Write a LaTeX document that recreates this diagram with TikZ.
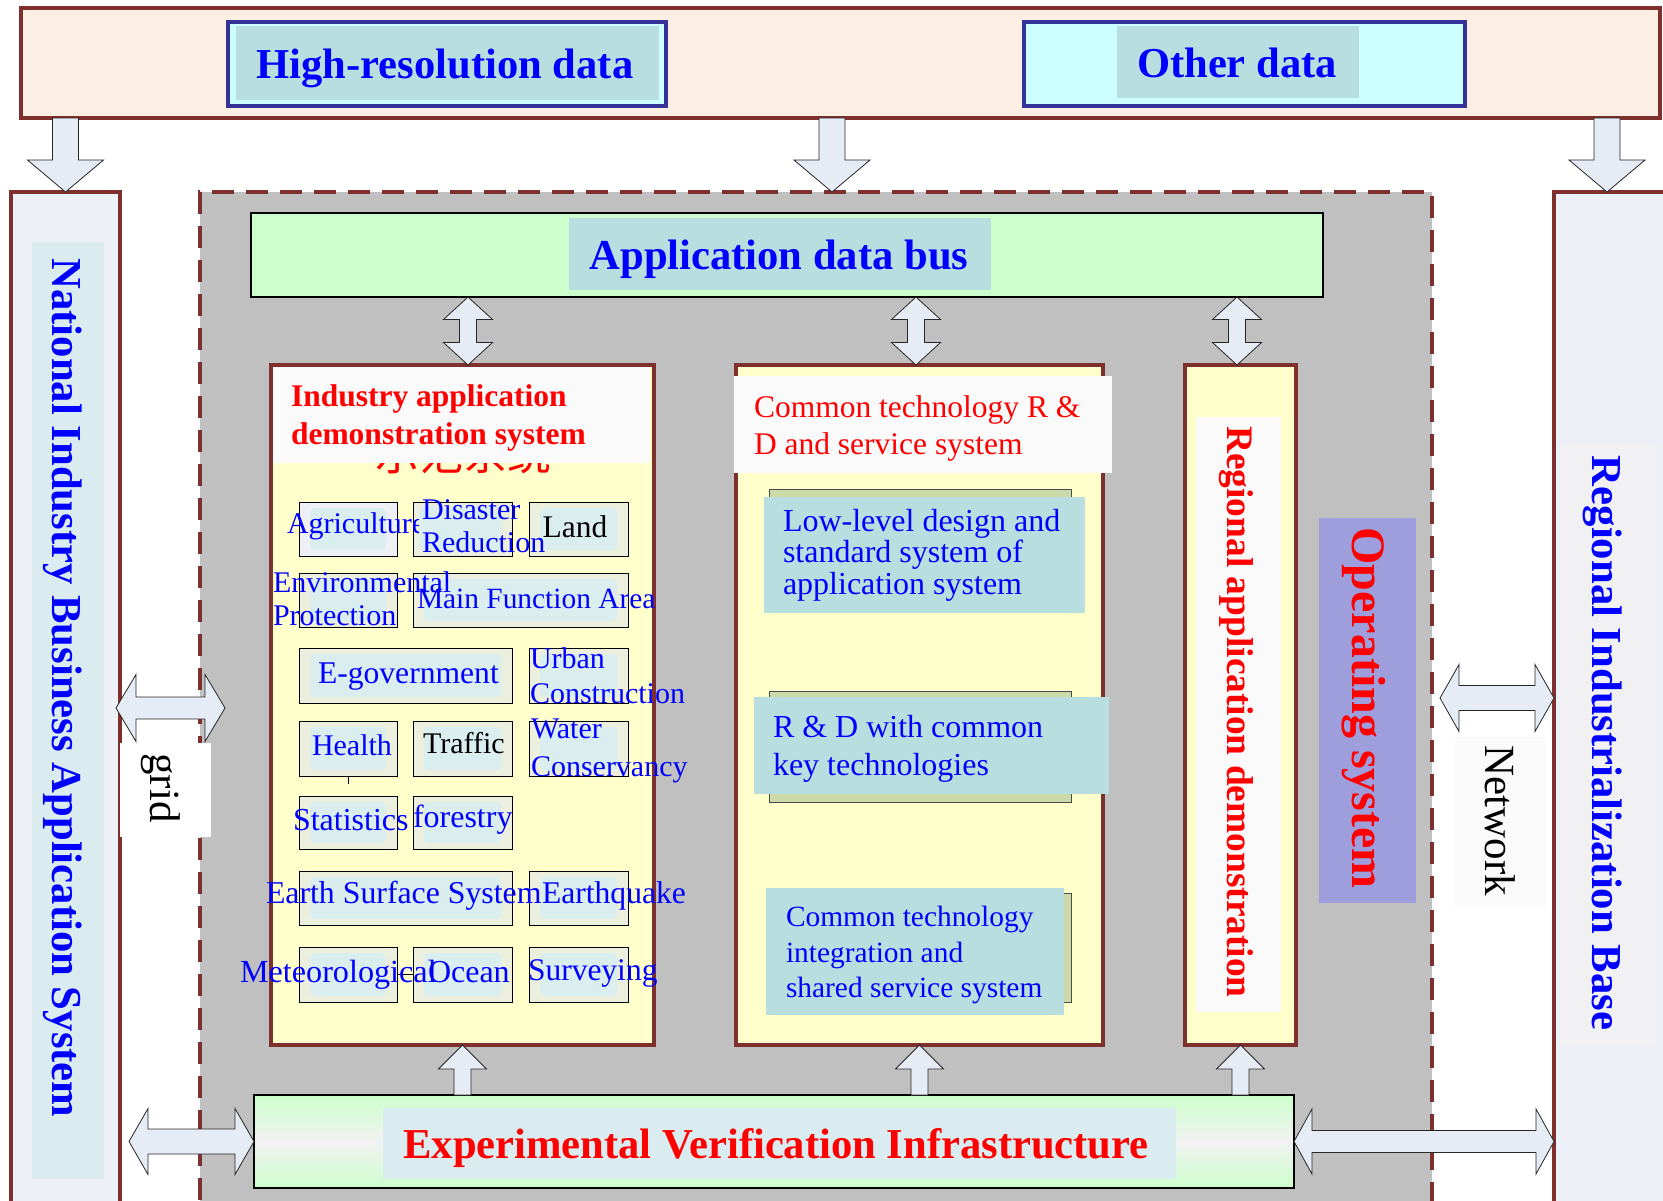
\documentclass[tikz,border=0pt]{standalone}
\usepackage{fontspec}
\setmainfont{Liberation Serif}
\newfontfamily\cjkfont{Noto Sans CJK SC}
\usetikzlibrary{calc,fit}

\definecolor{brn}{RGB}{125,48,45}
\definecolor{peach}{RGB}{253,238,227}
\definecolor{navy}{RGB}{51,51,153}
\definecolor{cyanfill}{RGB}{204,255,255}
\definecolor{tealbox}{RGB}{185,222,224}
\definecolor{panelgray}{RGB}{192,192,192}
\definecolor{busgreen}{RGB}{204,255,204}
\definecolor{paleyellow}{RGB}{255,255,204}
\definecolor{opviolet}{RGB}{158,158,221}
\definecolor{colfill}{RGB}{237,241,247}
\definecolor{colinner}{RGB}{218,236,239}
\definecolor{arrowfill}{RGB}{230,236,246}
\definecolor{itemfill}{RGB}{236,238,222}
\definecolor{itemblue}{RGB}{238,240,246}
\definecolor{iteminner}{RGB}{218,238,240}
\definecolor{backgreen}{RGB}{204,217,168}
\definecolor{txtblue}{RGB}{0,0,255}
\definecolor{txtred}{RGB}{255,0,0}
\definecolor{offwhite}{RGB}{250,250,250}
\definecolor{basegray}{RGB}{241,241,243}
\definecolor{eviwhite}{RGB}{242,242,242}

\newcommand\setfs[2]{\fontsize{#1}{#2}\selectfont}

% single block arrow from #1 to #2: half shaft, half head, head length
\newcommand\sarrow[5]{%
  \coordinate (saneck) at ($(#2)!#5!(#1)$);
  \filldraw[blockarrow] ($(#1)!#3!90:(#2)$) -- ($(saneck)!#3!90:(#2)$)
    -- ($(saneck)!#4!90:(#2)$) -- (#2) -- ($(saneck)!#4!-90:(#2)$)
    -- ($(saneck)!#3!-90:(#2)$) -- ($(#1)!#3!-90:(#2)$) -- cycle;}

% double block arrow between #1 and #2
\newcommand\darrow[5]{%
  \coordinate (daneckA) at ($(#1)!#5!(#2)$);
  \coordinate (daneckB) at ($(#2)!#5!(#1)$);
  \filldraw[blockarrow] ($(daneckA)!#3!90:(#2)$) -- ($(daneckB)!#3!90:(#2)$)
    -- ($(daneckB)!#4!90:(#2)$) -- (#2) -- ($(daneckB)!#4!-90:(#2)$)
    -- ($(daneckB)!#3!-90:(#2)$) -- ($(daneckA)!#3!-90:(#2)$)
    -- ($(daneckA)!#4!-90:(#2)$) -- (#1) -- ($(daneckA)!#4!90:(#2)$) -- cycle;}

% small boxes of the industry panel
\newcommand\cell[6][]{\node[cellbox,#1,fit={(#3,#4) (#5,#6)}] (#2) {};}
\newcommand\cellin[5]{\node[cellinner,fit={({#2+11},{#3+6}) ({#4-11},{#5-6})}] (#1) {};}

\begin{document}
\begin{tikzpicture}[x=1pt,y=-1pt,
  every node/.append style={inner sep=0pt, outer sep=0pt},
  frame/.style={draw=brn, line width=3.5pt},
  srcbox/.style={draw=navy, line width=4pt, fill=cyanfill},
  tealpad/.style={fill=tealbox},
  blockarrow/.style={fill=arrowfill, draw=black!85, line width=0.8pt, line join=miter},
  bigbold/.style={font=\bfseries\setfs{42.6}{48}, text=txtblue},
  vbold/.style={font=\bfseries\setfs{42.7}{50}, text=txtblue, rotate=-90},
  cellbox/.style={draw=black, line width=1pt, fill=itemfill},
  cellinner/.style={fill=iteminner, rounded corners=4pt},
  itemtxt/.style={font=\setfs{30}{33}, text=txtblue, align=left},
  techpad/.style={fill=tealbox},
  techback/.style={draw=black!70, line width=1pt, fill=backgreen},
  techtxt/.style={text=txtblue, align=left}]

\path[use as bounding box] (0,0) rectangle (1663,1200);
\clip (0,0) rectangle (1663,1200);
\fill[white] (0,0) rectangle (1663,1200);

% ---------- data sources ----------
\node[fit={(21,8) (1660,118)}, frame, fill=peach] (top) {};
\node[fit={(228,22) (666,106)}, srcbox] (hires) {};
\node[fit={(236,26) (659,100)}, tealpad] (hirespad) {};
\node[bigbold, anchor=base] (hirestxt) at (445,78) {High-resolution data};
\node[fit={(1024,22) (1465,106)}, srcbox] (other) {};
\node[fit={(1117,26) (1359,98)}, tealpad] (otherpad) {};
\node[bigbold, anchor=base] (othertxt) at (1237,77) {Other data};

% ---------- side columns ----------
\node[fit={(11,192) (120,1215)}, frame, fill=colfill] (lcol) {};
\node[fit={(32,242) (104,1179)}, fill=colinner] (lcolpad) {};
\node[vbold] (lcoltxt) at (63,688) {National Industry Business Application System};

\node[fit={(1554,192) (1690,1215)}, frame, fill=colfill] (rcol) {};
\node[fit={(1559,445) (1655,1045)}, fill=basegray] (rcolpad) {};
\node[vbold] (rcoltxt) at (1603,743) {Regional Industrialization Base};

% ---------- central panel ----------
\node[fit={(200,192) (1432,1230)}, draw=brn, line width=4pt,
      dash pattern=on 22pt off 12pt, fill=panelgray] (core) {};

% arrows from the data sources
\coordinate (dl1) at (top.south -| lcol.north);
\sarrow{dl1}{lcol.north}{13pt}{38pt}{32pt}
\coordinate (dm1) at ($(top.south -| core.north)+(16,0)$);
\coordinate (dm2) at ($(core.north)+(16,0)$);
\sarrow{dm1}{dm2}{13pt}{38pt}{32pt}
\coordinate (dr1) at ($(top.south -| rcol.north)+(-15,0)$);
\coordinate (dr2) at ($(rcol.north)+(-15,0)$);
\sarrow{dr1}{dr2}{13pt}{38pt}{32pt}

% application data bus
\node[fit={(251,213) (1323,297)}, draw=black, line width=1.5pt, fill=busgreen] (bus) {};
\node[fit={(569,218) (991,290)}, tealpad] (buspad) {};
\node[bigbold, anchor=base] (bustxt) at (779,269) {Application data bus};

% ---------- industry application panel ----------
\node[fit={(271,365) (654,1045)}, frame, line width=4pt, fill=paleyellow] (ind) {};
\begin{scope}
  \clip (300,440) rectangle (620,476);
  \node[font=\cjkfont\setfs{44}{44}, text=txtred, anchor=base] (indcn) at (463,470) {示范系统};
\end{scope}
\node[fit={(273,367) (650,463)}, fill=offwhite] (indhead) {};
\node[anchor=west, font=\bfseries\setfs{31.5}{38}, text=txtred, align=left] (indtitle)
  at (291,418) {Industry application\\demonstration system};

\cell[fill=itemblue]{agr}{299}{502}{397}{556}
\cell{dis}{413}{502}{512}{556}
\cell{land}{529}{502}{628}{556}
\cell{env}{299}{573}{397}{627}
\cell{mfa}{413}{573}{628}{627}
\cell{egov}{299}{648}{512}{703}
\cell{urb}{529}{648}{628}{703}
\cell{hea}{299}{721}{397}{776}
\cell{tra}{413}{721}{512}{776}
\cell{wat}{529}{721}{628}{776}
\cell{sta}{299}{796}{397}{849}
\cell{fors}{413}{796}{512}{849}
\cell{ess}{299}{871}{512}{925}
\cell{eq}{529}{871}{628}{925}
\cell{met}{299}{947}{397}{1002}
\cell{oce}{413}{947}{512}{1002}
\cell{sur}{529}{947}{628}{1002}
\draw[line width=1pt] (met) -- (oce);
\draw[line width=1pt] (hea.south) -- ++(0,8);

% light pads inside the small boxes
\cellin{agrin}{299}{502}{397}{556}
\node[itemtxt, anchor=base west] (agrtxt) at (287,533) {Agriculture};
\node[cellinner, fit={(419,507) (501,550)}] (disin) {};
\cellin{landin}{529}{502}{628}{556}
\cellin{envin}{299}{573}{397}{627}
\cellin{mfain}{413}{573}{628}{627}
\cellin{egovin}{299}{648}{512}{703}
\cellin{urbin}{529}{648}{628}{703}
\cellin{heain}{299}{721}{397}{776}
\cellin{train}{413}{721}{512}{776}
\cellin{watin}{529}{721}{628}{776}
\cellin{stain}{299}{796}{397}{849}
\cellin{forsin}{413}{796}{512}{849}
\cellin{essin}{299}{871}{512}{925}
\cellin{eqin}{529}{871}{628}{925}
\cellin{metin}{299}{947}{397}{1002}
\cellin{ocein}{413}{947}{512}{1002}
\cellin{surin}{529}{947}{628}{1002}

% labels of the small boxes
\node[itemtxt, anchor=west] (distxt) at (422,526) {Disaster\\Reduction};
\node[itemtxt, anchor=base, text=black, font=\setfs{31.5}{34}] (landtxt) at (575,537) {Land};
\node[itemtxt, anchor=west] (envtxt) at (273,599) {Environmental\\Protection};
\node[itemtxt, anchor=base west, font=\setfs{29.4}{33}] (mfatxt) at (417,608) {Main Function Area};
\node[itemtxt, anchor=base west, font=\setfs{31.6}{34}] (egovtxt) at (318,683) {E-government};
\node[itemtxt, anchor=west, font=\setfs{30}{35}] (urbtxt) at (530,676) {Urban\\Construction};
\node[itemtxt, anchor=base west] (heatxt) at (312,755) {Health};
\node[itemtxt, anchor=base west, text=black] (tratxt) at (423,753) {Traffic};
\node[itemtxt, anchor=west, font=\setfs{30}{38}] (wattxt) at (531,751) {Water\\Conservancy};
\node[itemtxt, anchor=base west, font=\setfs{32}{34}] (statxt) at (293,830) {Statistics};
\node[itemtxt, anchor=base west, font=\setfs{32}{34}] (forstxt) at (413,827) {forestry};
\node[itemtxt, anchor=base west, font=\setfs{31.8}{34}] (esstxt) at (266,903) {Earth Surface System};
\node[itemtxt, anchor=base west, font=\setfs{31.6}{34}] (eqtxt) at (542,903) {Earthquake};
\node[itemtxt, anchor=base west, font=\setfs{32.2}{34}] (mettxt) at (240,982) {Meteorological};
\node[itemtxt, anchor=base west, font=\setfs{32}{34}] (ocetxt) at (428,982) {Ocean};
\node[itemtxt, anchor=base west, font=\setfs{31.5}{34}] (surtxt) at (528,980) {Surveying};

% ---------- common technology panel ----------
\node[fit={(736,365) (1103,1045)}, frame, line width=4pt, fill=paleyellow] (ctr) {};
\node[fit={(734,376) (1112,473)}, fill=offwhite] (ctrhead) {};
\node[anchor=west, font=\setfs{31.5}{37}, text=txtred, align=left] (ctrtitle)
  at (754,428) {Common technology R \&\\D and service system};

\node[fit={(769,489) (1071,605)}, techback] (lowback) {};
\node[fit={(764,497) (1085,613)}, techpad] (low) {};
\node[techtxt, anchor=west, font=\setfs{32}{31.5}] (lowtxt) at (783,555)
  {Low-level design and\\standard system of\\application system};

\node[fit={(769,691) (1071,802)}, techback] (keyback) {};
\node[fit={(754,697) (1109,794)}, techpad] (key) {};
\node[techtxt, anchor=west, font=\setfs{32}{38}] (keytxt) at (773,749)
  {R \& D with common\\key technologies};

\node[fit={(790,893) (1071,1002)}, techback] (intback) {};
\node[fit={(766,888) (1064,1015)}, techpad] (int) {};
\node[techtxt, anchor=west, font=\setfs{29.4}{35.5}] (inttxt) at (786,955)
  {Common technology\\integration and\\shared service system};

% ---------- regional demonstration ----------
\node[fit={(1185,365) (1296,1045)}, frame, line width=4pt, fill=paleyellow] (reg) {};
\node[fit={(1196,417) (1281,1012)}, fill=offwhite] (regpad) {};
\node[font=\bfseries\setfs{37.4}{44}, text=txtred, rotate=-90] (regtxt) at (1236,712)
  {Regional application demonstration};

\node[fit={(1319,518) (1416,903)}, fill=opviolet] (ops) {};
\node[font=\bfseries\setfs{48}{54}, text=txtred, rotate=-90] (opstxt) at (1364,708)
  {Operating system};

% bus links
\coordinate (ba1) at ($(bus.south -| ind.north)+(5.5,0)$);
\coordinate (bb1) at ($(ind.north)+(5.5,0)$);
\darrow{ba1}{bb1}{8.5pt}{24.5pt}{22.5pt}
\coordinate (ba2) at ($(bus.south -| ctr.north)+(-3.5,0)$);
\coordinate (bb2) at ($(ctr.north)+(-3.5,0)$);
\darrow{ba2}{bb2}{8.5pt}{24.5pt}{22.5pt}
\coordinate (ba3) at ($(bus.south -| reg.north)+(-3.5,0)$);
\coordinate (bb3) at ($(reg.north)+(-3.5,0)$);
\darrow{ba3}{bb3}{8.5pt}{24.5pt}{22.5pt}

% ---------- infrastructure ----------
\node[fit={(254,1095) (1294,1188)}, draw=black, line width=1.5pt,
      top color=busgreen, bottom color=busgreen, middle color=eviwhite] (evi) {};
\node[fit={(383,1108) (1176,1179)}, fill=colinner] (evipad) {};
\node[font=\bfseries\setfs{42.6}{48}, text=txtred, anchor=base] (evitxt) at (776,1158)
  {Experimental Verification Infrastructure};

\coordinate (ea1) at (evi.north -| ind.south);
\sarrow{ea1}{ind.south}{8.5pt}{24pt}{24pt}
\coordinate (ea2) at (evi.north -| ctr.south);
\sarrow{ea2}{ctr.south}{8.5pt}{24pt}{24pt}
\coordinate (ea3) at (evi.north -| reg.south);
\sarrow{ea3}{reg.south}{8.5pt}{24pt}{24pt}

% ---------- side links ----------
\coordinate (gl1) at ($(lcol.east)+(-4,4.5)$);
\coordinate (gl2) at ($(gl1)+(109,0)$);
\darrow{gl1}{gl2}{11pt}{33.5pt}{20pt}
\node[fit={(120,743) (211,837)}, fill=white] (gridpad) {};
\node[font=\setfs{43}{50}, rotate=-90] (gridtxt) at (161,788) {grid};

\coordinate (bl1) at ($(lcol.east |- evi.west)+(9,0)$);
\darrow{bl1}{evi.west}{12.5pt}{33pt}{19pt}
\coordinate (br2) at (rcol.west |- evi.east);
\darrow{evi.east}{br2}{11pt}{32.5pt}{18pt}

\coordinate (nl1) at ($(core.east)+(8,-13)$);
\coordinate (nl2) at (rcol.west |- nl1);
\darrow{nl1}{nl2}{12.5pt}{33.5pt}{19pt}
\node[fit={(1455,737) (1546,907)}, fill=offwhite] (netpad) {};
\node[font=\setfs{43}{50}, rotate=-90] (nettxt) at (1500,821) {Network};

\end{tikzpicture}
\end{document}
